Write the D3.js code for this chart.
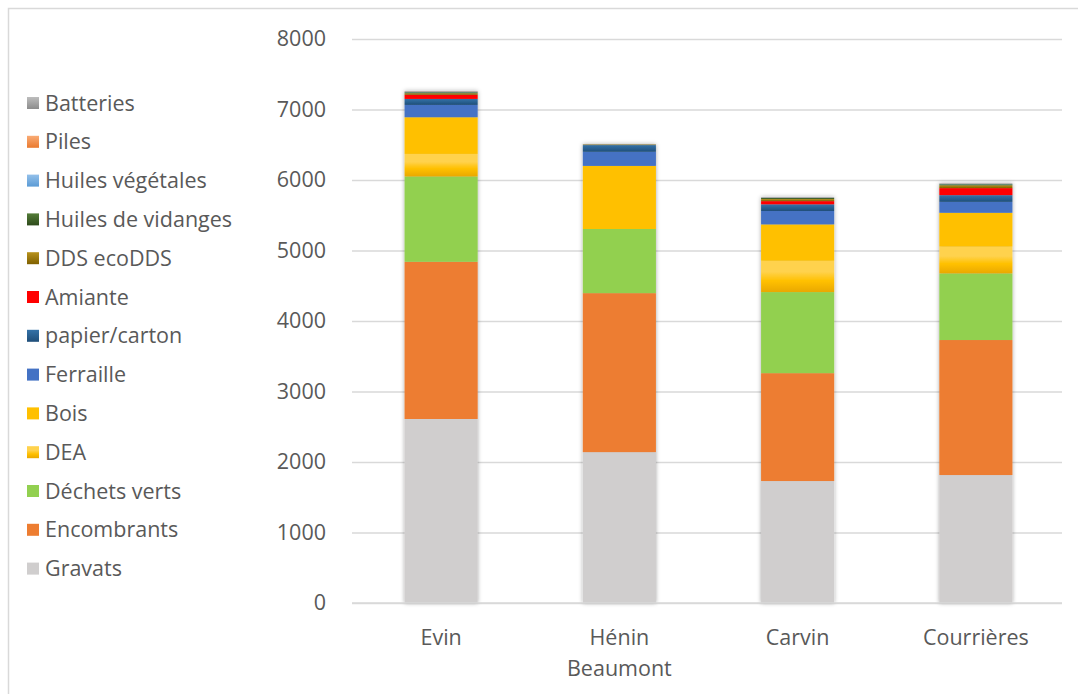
<!DOCTYPE html>
<html>
<head>
<meta charset="utf-8">
<script src="https://cdn.jsdelivr.net/npm/d3@7/dist/d3.min.js"></script>
<style>
  html, body { margin: 0; padding: 0; background: #fff; }
  svg { display: block; }
  text { font-family: "Open Sans", Lato, sans-serif; fill: #595959; }
</style>
</head>
<body>
<svg id="chart" width="1078" height="694"></svg>
<script>
// Déchetteries : tonnages collectés par site
const sites = ["Evin", "Hénin Beaumont", "Carvin", "Courrières"];
const siteLines = [["Evin"], ["Hénin", "Beaumont"], ["Carvin"], ["Courrières"]];

// Flux, du bas de la pile vers le haut
const flux = ["Gravats", "Encombrants", "Déchets verts", "DEA", "Bois", "Ferraille",
  "papier/carton", "Amiante", "DDS ecoDDS", "Huiles de vidanges", "Huiles végétales",
  "Piles", "Batteries"];

const gravats          = [2610, 2140, 1730, 1815];
const encombrants      = [2230, 2255, 1530, 1915];
const dechetsVerts     = [1210, 910, 1150, 945];
const dea              = [320, 0, 445, 380];
const bois             = [520, 895, 515, 480];
const ferraille        = [175, 200, 190, 155];
const papierCarton     = [85, 95, 95, 95];
const amiante          = [60, 0, 45, 100];
const ddsEcoDDS        = [20, 5, 30, 40];
const huilesVidanges   = [15, 5, 15, 15];
const huilesVegetales  = [5, 0, 5, 5];
const piles            = [5, 2, 2, 2];
const batteries        = [10, 3, 8, 8];

const yTicks = [0, 1000, 2000, 3000, 4000, 5000, 6000, 7000, 8000];

const seriesValues = [gravats, encombrants, dechetsVerts, dea, bois, ferraille,
  papierCarton, amiante, ddsEcoDDS, huilesVidanges, huilesVegetales, piles, batteries];

// Couleurs : [haut, bas] pour les dégradés, une seule valeur pour les aplats
const fills = {
  "Gravats": ["#d0cece"],
  "Encombrants": ["#ed7d31"],
  "Déchets verts": ["#92d050"],
  "DEA": ["#ffd24d", "#ffc000", "#e9a800"],
  "Bois": ["#ffc000"],
  "Ferraille": ["#4472c4"],
  "papier/carton": ["#3472a8", "#1f4e79"],
  "Amiante": ["#ff0000"],
  "DDS ecoDDS": ["#b8921c", "#7f6000"],
  "Huiles de vidanges": ["#547d38", "#2e4a1b"],
  "Huiles végétales": ["#93c0ea", "#5b9bd5"],
  "Piles": ["#f9ab75", "#ea7a2f"],
  "Batteries": ["#bdbdbd", "#8c8c8c"]
};

const rows = sites.map((s, i) => {
  const r = { site: s };
  flux.forEach((f, k) => r[f] = seriesValues[k][i]);
  return r;
});
const stacked = d3.stack().keys(flux)(rows);

const svg = d3.select("#chart");
const defs = svg.append("defs");

// Ombre douce autour des colonnes
const sh = defs.append("filter").attr("id", "shadow")
  .attr("x", "-20%").attr("y", "-5%").attr("width", "140%").attr("height", "110%");
sh.append("feDropShadow").attr("dx", 0).attr("dy", 0).attr("stdDeviation", 2.2)
  .attr("flood-color", "#000").attr("flood-opacity", 0.35);

function fillOf(f, idx) {
  const c = fills[f];
  if (c.length === 1) return c[0];
  const id = "g" + idx;
  const g = defs.append("linearGradient").attr("id", id)
    .attr("x1", 0).attr("y1", 0).attr("x2", 0).attr("y2", 1);
  if (c.length === 3) {
    g.append("stop").attr("offset", "0%").attr("stop-color", c[0]);
    g.append("stop").attr("offset", "35%").attr("stop-color", c[0]);
    g.append("stop").attr("offset", "65%").attr("stop-color", c[1]);
    g.append("stop").attr("offset", "100%").attr("stop-color", c[2]);
  } else {
    g.append("stop").attr("offset", "0%").attr("stop-color", c[0]);
    g.append("stop").attr("offset", "100%").attr("stop-color", c[1]);
  }
  return `url(#${id})`;
}
const fillMap = {};
flux.forEach((f, i) => fillMap[f] = fillOf(f, i));

// Cadre du graphique
svg.append("rect").attr("x", 8.5).attr("y", 8.5).attr("width", 1080).attr("height", 700)
  .attr("fill", "none").attr("stroke", "#d9d9d9").attr("stroke-width", 1.5);

const x = d3.scaleBand().domain(sites).range([352, 1065])
  .paddingInner(0.59).paddingOuter(0.295);
const y = d3.scaleLinear().domain([0, 8000]).range([603, 39]);

const fontSize = 21.5;

// Quadrillage et graduations
const yAxis = d3.axisLeft(y).tickValues(yTicks).tickSize(-(1062 - 352)).tickPadding(26)
  .tickFormat(d3.format("d"));
const gy = svg.append("g").attr("transform", "translate(352,0)").call(yAxis);
gy.select(".domain").remove();
gy.selectAll(".tick line").attr("stroke", "#d9d9d9").attr("stroke-width", 1.3);
gy.selectAll(".tick text").attr("font-size", fontSize).attr("fill", "#595959")
  .style("font-family", "'Open Sans', Lato, sans-serif");

// Colonnes empilées
const barG = svg.append("g");
sites.forEach((s, i) => {
  const g = barG.append("g").attr("filter", "url(#shadow)");
  stacked.forEach(layer => {
    const d = layer[i];
    if (d[1] - d[0] <= 0) return;
    g.append("rect")
      .attr("x", x(s))
      .attr("width", x.bandwidth())
      .attr("y", y(d[1]))
      .attr("height", y(d[0]) - y(d[1]))
      .attr("fill", fillMap[layer.key]);
  });
});

// Axe horizontal
svg.append("line").attr("x1", 352).attr("x2", 1062).attr("y1", y(0)).attr("y2", y(0))
  .attr("stroke", "#d9d9d9").attr("stroke-width", 1.3);

const xAxis = d3.axisBottom(x).tickSize(0).tickFormat(() => "");
const gx = svg.append("g").attr("transform", `translate(0,${y(0)})`).call(xAxis);
gx.select(".domain").remove();
gx.selectAll(".tick").each(function (d, i) {
  const t = d3.select(this).append("text").attr("text-anchor", "middle")
    .attr("font-size", fontSize).attr("fill", "#595959");
  siteLines[i].forEach((line, k) => {
    t.append("tspan").attr("x", 0).attr("y", 42 + k * 31).text(line);
  });
});

// Légende (ordre inverse de la pile)
const legendItems = flux.slice().reverse();
const lg = svg.append("g");
legendItems.forEach((f, i) => {
  const cy = 103 + i * 38.8;
  lg.append("rect").attr("x", 27).attr("y", cy - 6).attr("width", 12).attr("height", 12)
    .attr("fill", fillMap[f]);
  lg.append("text").attr("x", 45).attr("y", cy + 7.5).attr("font-size", fontSize).text(f);
});
</script>
</body>
</html>
